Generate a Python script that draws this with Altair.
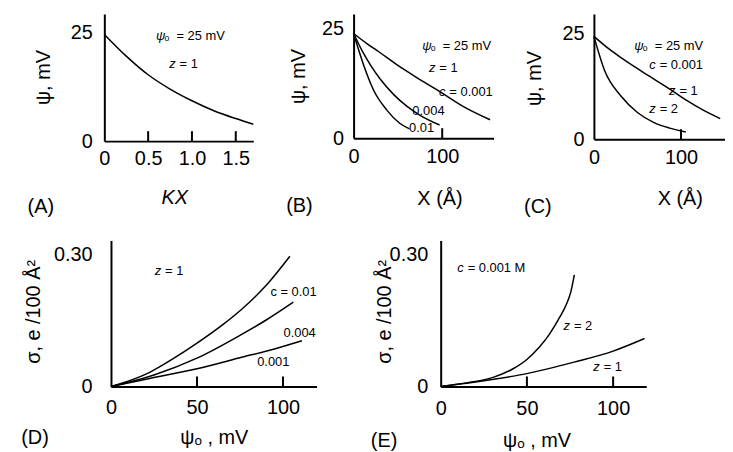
import altair as alt
import pandas as pd

FONT = "Liberation Sans"
NB = "\u00a0"

# ---------------- data ----------------
# (A) psi vs kappa*X, psi0 = 25 mV, z = 1
A_kx = [0, 0.25, 0.5, 0.75, 1.0, 1.25, 1.5, 1.7]
A_psi = [24.6, 19.6, 15.3, 12.0, 9.3, 7.0, 5.2, 3.9]

# (B) psi vs X (Angstrom) for three concentrations, z = 1
B_x_c0001 = [0, 15, 30, 50, 70, 96, 124, 154]
B_psi_c0001 = [23.9, 21.6, 19.5, 16.6, 14.0, 10.8, 7.2, 4.2]
B_x_c0004 = [0, 10, 20, 30, 45, 60, 75, 97]
B_psi_c0004 = [23.9, 19.8, 16.4, 13.5, 10.0, 7.3, 5.2, 3.0]
B_x_c001 = [0, 11, 22.5, 37.5, 52, 63]
B_psi_c001 = [23.9, 16.9, 11.0, 6.4, 3.4, 2.1]

# (C) psi vs X for z = 1 and z = 2, c = 0.001
C_x_z1 = [0, 15, 31, 50, 69, 88, 107, 125, 145]
C_psi_z1 = [24.3, 21.7, 19.3, 16.7, 14.2, 11.7, 9.1, 6.9, 4.85]
C_x_z2 = [0, 12.5, 31, 50, 69, 87, 105.5]
C_psi_z2 = [24.3, 16.1, 10.2, 6.3, 3.9, 2.6, 1.7]

# (D) sigma vs psi0 for three concentrations, z = 1
D_psi_c001 = [0, 10, 22.5, 35, 50, 65, 76, 90, 104]
D_sig_c001 = [0, 0.012, 0.032, 0.060, 0.098, 0.140, 0.175, 0.228, 0.295]
D_psi_c0004 = [0, 12, 25, 50, 76, 90, 106]
D_sig_c0004 = [0, 0.011, 0.026, 0.064, 0.118, 0.150, 0.191]
D_psi_c0001 = [0, 22.5, 50, 76, 95, 111]
D_sig_c0001 = [0, 0.018, 0.040, 0.066, 0.085, 0.1035]

# (E) sigma vs psi0 for z = 1 and z = 2, c = 0.001 M
E_psi_z2 = [0, 15, 30.8, 42, 50, 57, 63, 69.2, 73.1, 75.5, 77.5]
E_sig_z2 = [0, 0.008, 0.021, 0.040, 0.061, 0.088, 0.118, 0.158, 0.188, 0.215, 0.253]
E_psi_z1 = [0, 15, 30.8, 50, 77.3, 100, 118.2]
E_sig_z1 = [0, 0.007, 0.016, 0.029, 0.055, 0.080, 0.1085]

# curve annotations: (italic symbol, rest of text, x, y in data units)
A_notes = [("ψ", "ₒ  = 25 mV", 0.59, 24.3), ("z", "= 1", 0.74, 17.8)]
B_notes = [("ψ", "ₒ  = 25 mV", 77.5, 21.0), ("z", "= 1", 85, 16.1),
           ("c", "= 0.001", 96.3, 10.6), ("", "0.004", 66.3, 6.1), ("", "0.01", 62.6, 2.4)]
C_notes = [("ψ", "ₒ  = 25 mV", 46.4, 22.0), ("c", "= 0.001", 63.5, 17.6),
           ("z", "= 1", 86.3, 11.4), ("z", "= 2", 63.5, 7.1)]
D_notes = [("z", "= 1", 25.4, 0.261), ("", "c = 0.01", 92.7, 0.214),
           ("", "0.004", 100.3, 0.122), ("", "0.001", 85, 0.055)]
E_notes = [("c", "= 0.001 M", 9.6, 0.268), ("z", "= 2", 71.2, 0.137),
           ("z", "= 1", 88.5, 0.044)]

SYMBOL_DX = {"": 0, "z": 10.5, "c": 10.5, "ψ": 8.5}


def curves(*pairs):
    rows = []
    for i, (xs, ys) in enumerate(pairs):
        for x, y in zip(xs, ys):
            rows.append({"x": x, "y": y, "s": i})
    return pd.DataFrame(rows)


def outer_text(text, px, py, size=20, angle=0, italic=False):
    kw = dict(font=FONT, fontSize=size, color="black", align="center", baseline="middle")
    if angle:
        kw["angle"] = angle
    if italic:
        kw["fontStyle"] = "italic"
    return alt.Chart(pd.DataFrame({"t": [text]})).mark_text(**kw).encode(
        text="t:N", x=alt.value(px), y=alt.value(py))


def panel(df, xdom, ydom, w, h, xvals, yvals, xexpr, yexpr, ticks, notes, outers,
          xpad, ypad):
    xaxis = alt.Axis(values=xvals, labelExpr=xexpr, ticks=False, grid=False,
                     domainColor="black", domainWidth=2, labelFont=FONT,
                     labelFontSize=20, labelColor="black", labelPadding=xpad,
                     labelFlush=False, labelOverlap=False, title="")
    yaxis = alt.Axis(values=yvals, labelExpr=yexpr, ticks=False, grid=False,
                     domainColor="black", domainWidth=2, labelFont=FONT,
                     labelFontSize=20, labelColor="black", labelPadding=ypad,
                     labelFlush=False, labelOverlap=False, title="")
    xs = alt.Scale(domain=xdom, nice=False, zero=False)
    ys = alt.Scale(domain=ydom, nice=False, zero=False)
    X = alt.X("x:Q", scale=xs, axis=xaxis)
    Y = alt.Y("y:Q", scale=ys, axis=yaxis)
    lines = alt.Chart(df).mark_line(color="black", strokeWidth=1.5,
                                    interpolate="monotone").encode(
        x=X, y=Y, detail="s:N")
    layers = [lines]
    sym = [n for n in notes if n[0]]
    if sym:
        sdf = pd.DataFrame({"t": [n[0] for n in sym], "x": [n[2] for n in sym],
                            "y": [n[3] for n in sym]})
        layers.append(alt.Chart(sdf).mark_text(
            align="left", baseline="middle", font=FONT, fontSize=13,
            fontStyle="italic", color="black").encode(x=X, y=Y, text="t:N"))
    for s, dx in SYMBOL_DX.items():
        grp = [n for n in notes if n[0] == s]
        if not grp:
            continue
        rdf = pd.DataFrame({"t": [n[1].replace(" ", NB) for n in grp],
                            "x": [n[2] for n in grp], "y": [n[3] for n in grp]})
        layers.append(alt.Chart(rdf).mark_text(
            align="left", baseline="middle", font=FONT, fontSize=13, dx=dx,
            color="black").encode(x=X, y=Y, text="t:N"))
    layers += outers
    tick_len = 10.0 / h * (ydom[1] - ydom[0])
    tk = alt.Chart(pd.DataFrame({"x": ticks, "y": [0.0] * len(ticks),
                                 "y2": [tick_len] * len(ticks)})).mark_rule(
        color="black", strokeWidth=2).encode(x=X, y=Y, y2="y2:Q")
    layers.append(tk)
    return alt.layer(*layers).properties(width=w, height=h)


HB = 147
dec1 = "datum.value == 0 ? '0' : format(datum.value, '.1f')"
dec2 = "datum.value == 0 ? '0' : format(datum.value, '.2f')"
plain = "format(datum.value, 'd')"

pA = panel(curves((A_kx, A_psi)), [0, 1.70], [0, 29.3], 150, 128,
           [0, 0.5, 1.0, 1.5], [0, 25], dec1, plain, [0.5, 1.0, 1.5], A_notes,
           [outer_text("ψ, mV", -61, 64, angle=270),
            outer_text("KX", 71, 185, italic=True),
            outer_text("(A)", -64, 194)], 8, 12)

pB = panel(curves((B_x_c0001, B_psi_c0001), (B_x_c0004, B_psi_c0004), (B_x_c001, B_psi_c001)),
           [0, 158], [0, 28.35], 141, 125, [0, 100], [0, 25], plain, plain, [100], B_notes,
           [outer_text("ψ, mV", -54.5, 63, angle=270),
            outer_text("X (Å)", 87, 186.5),
            outer_text("(B)", -54.5, 193.5)], 9, 10)

pC = panel(curves((C_x_z1, C_psi_z1), (C_x_z2, C_psi_z2)),
           [0, 150.5], [0, 29.6], 132, 126, [0, 100], [0, 25], plain, plain, [100], C_notes,
           [outer_text("ψ, mV", -59.5, 65, angle=270),
            outer_text("X (Å)", 87, 186.5),
            outer_text("(C)", -56.5, 194)], 9, 10)

pD = panel(curves((D_psi_c001, D_sig_c001), (D_psi_c0004, D_sig_c0004), (D_psi_c0001, D_sig_c0001)),
           [0, 119.5], [0, 0.331], 207, HB, [0, 50, 100], [0, 0.30], plain, dec2, [50, 100],
           D_notes,
           [outer_text("σ, e /100 Å²", -77, 72, angle=270),
            outer_text("ψₒ , mV", 104, 198.7),
            outer_text("(D)", -76.5, 198.7)], 11, 19)

pE = panel(curves((E_psi_z2, E_sig_z2), (E_psi_z1, E_sig_z1)),
           [0, 119.2], [0, 0.331], 207, HB, [0, 50, 100], [0, 0.30], plain, dec2, [50, 100],
           E_notes,
           [outer_text("σ, e /100 Å²", -56.5, 72, angle=270),
            outer_text("ψₒ , mV", 97, 201.7),
            outer_text("(E)", -57, 201.7)], 12, 13)

spacer = alt.Chart(pd.DataFrame({"a": [0]})).mark_point(opacity=0).encode(
    x=alt.value(0), y=alt.value(0)).properties(width=1, height=1)

top = alt.hconcat(pA, pB, pC, spacing=101, bounds="flush")
bottom = alt.hconcat(spacer, alt.hconcat(pD, pE, spacing=125, bounds="flush"),
                     spacing=5.7, bounds="flush")

chart = alt.vconcat(top, bottom, spacing=21).properties(
    padding={"left": 13, "top": 4.5, "right": 0, "bottom": 0},
    background="white",
).configure_view(stroke=None)

chart.save("out.html", embed_options={"renderer": "svg", "actions": False})
